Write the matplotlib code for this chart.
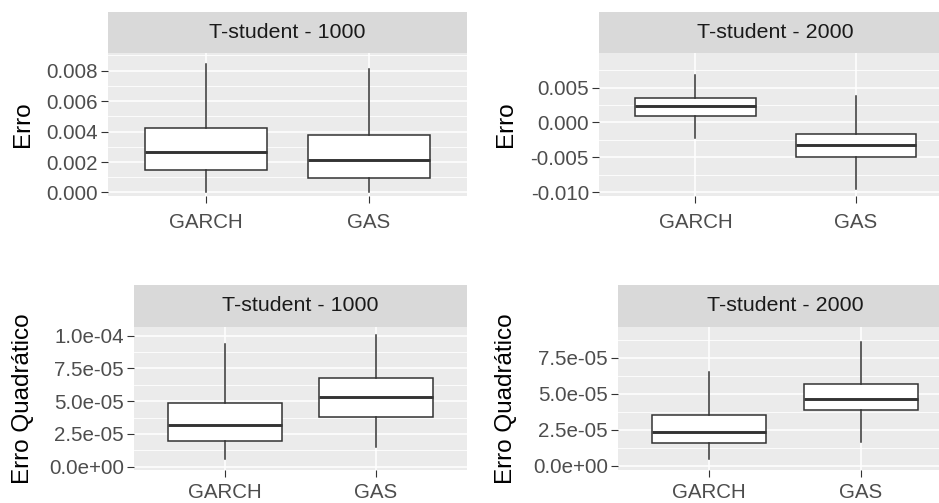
import matplotlib
matplotlib.use("Agg")
import matplotlib.pyplot as plt
from matplotlib.ticker import FixedLocator, FixedFormatter

plt.rcParams['font.family'] = ['Liberation Sans', 'DejaVu Sans']

W, H, DPI = 939, 503, 100

models = ["GARCH", "GAS"]

# Five-number summaries per model: whisker low, Q1, median, Q3, whisker high
erro_1000_garch = [0.00005, 0.00150, 0.00268, 0.00425, 0.00842]
erro_1000_gas = [0.00005, 0.00093, 0.00213, 0.00378, 0.00809]
erro_2000_garch = [-0.00224, 0.00092, 0.00237, 0.00344, 0.00683]
erro_2000_gas = [-0.00957, -0.00491, -0.00326, -0.00166, 0.00383]
eq_1000_garch = [0.56e-5, 1.94e-5, 3.20e-5, 4.84e-5, 9.37e-5]
eq_1000_gas = [1.48e-5, 3.82e-5, 5.34e-5, 6.75e-5, 10.05e-5]
eq_2000_garch = [0.43e-5, 1.59e-5, 2.35e-5, 3.51e-5, 6.53e-5]
eq_2000_gas = [1.66e-5, 3.86e-5, 4.65e-5, 5.65e-5, 8.62e-5]

strip_titles = ["T-student - 1000", "T-student - 2000",
                "T-student - 1000", "T-student - 2000"]
y_titles = ["Erro", "Erro", "Erro Quadrático", "Erro Quadrático"]

ticks_erro_1000 = [0.000, 0.002, 0.004, 0.006, 0.008]
labels_erro_1000 = ["0.000", "0.002", "0.004", "0.006", "0.008"]
ticks_erro_2000 = [-0.010, -0.005, 0.000, 0.005]
labels_erro_2000 = ["-0.010", "-0.005", "0.000", "0.005"]
ticks_eq_1000 = [0.0, 2.5e-5, 5.0e-5, 7.5e-5, 1.0e-4]
labels_eq_1000 = ["0.0e+00", "2.5e-05", "5.0e-05", "7.5e-05", "1.0e-04"]
ticks_eq_2000 = [0.0, 2.5e-5, 5.0e-5, 7.5e-5]
labels_eq_2000 = ["0.0e+00", "2.5e-05", "5.0e-05", "7.5e-05"]

panels = [
    dict(data=[erro_1000_garch, erro_1000_gas], ticks=ticks_erro_1000,
         labels=labels_erro_1000, ylim=(-0.00023, 0.00914),
         rect=(108.3, 53.3, 466.7, 196.0), strip=12.3, ylab_x=23, xpad=7),
    dict(data=[erro_2000_garch, erro_2000_gas], ticks=ticks_erro_2000,
         labels=labels_erro_2000, ylim=(-0.01054, 0.0099),
         rect=(599.3, 53.3, 952.0, 196.0), strip=12.3, ylab_x=506, xpad=7),
    dict(data=[eq_1000_garch, eq_1000_gas], ticks=ticks_eq_1000,
         labels=labels_eq_1000, ylim=(-0.25e-5, 10.69e-5),
         rect=(134.3, 326.7, 466.7, 470.0), strip=285.0, ylab_x=23, xpad=4.5),
    dict(data=[eq_2000_garch, eq_2000_gas], ticks=ticks_eq_2000,
         labels=labels_eq_2000, ylim=(-0.31e-5, 9.66e-5),
         rect=(618.3, 326.7, 951.6, 470.0), strip=285.0, ylab_x=506, xpad=4.5),
]

PANEL_BG = "#EBEBEB"
STRIP_BG = "#D9D9D9"
DARK = "#333333"

fig = plt.figure(figsize=(W / DPI, H / DPI), dpi=DPI, facecolor="white")


def fig_rect(x0, y0, x1, y1):
    """Pixel box (top-left origin) -> figure-fraction [left, bottom, w, h]."""
    return [x0 / W, 1 - y1 / H, (x1 - x0) / W, (y1 - y0) / H]


for p, title, ylab in zip(panels, strip_titles, y_titles):
    x0, y0, x1, y1 = p["rect"]
    ax = fig.add_axes(fig_rect(x0, y0, x1, y1))
    ax.set_facecolor(PANEL_BG)
    for s in ax.spines.values():
        s.set_visible(False)

    ax.set_xlim(0.4, 2.6)
    ax.set_ylim(*p["ylim"])

    # grid lines: majors at ticks, minors halfway between
    ticks = p["ticks"]
    step = ticks[1] - ticks[0]
    minors = [t + step / 2 for t in [ticks[0] - step] + ticks]
    lo, hi = p["ylim"]
    for m in minors:
        if lo < m < hi:
            ax.axhline(m, color="white", lw=0.6, zorder=0.5)
    for t in ticks:
        ax.axhline(t, color="white", lw=1.1, zorder=0.6)
    for xpos in (1, 2):
        ax.axvline(xpos, color="white", lw=1.1, zorder=0.6)

    stats = []
    for name, vals in zip(models, p["data"]):
        stats.append(dict(label=name, whislo=vals[0], q1=vals[1],
                          med=vals[2], q3=vals[3], whishi=vals[4]))
    ax.bxp(stats, positions=[1, 2], widths=0.75, showcaps=False,
           showfliers=False, patch_artist=True,
           boxprops=dict(facecolor="white", edgecolor=DARK, linewidth=1.1),
           whiskerprops=dict(color=DARK, linewidth=1.1),
           medianprops=dict(color=DARK, linewidth=2.1, solid_capstyle="butt"),
           zorder=2)

    ax.yaxis.set_major_locator(FixedLocator(ticks))
    ax.yaxis.set_major_formatter(FixedFormatter(p["labels"]))
    ax.set_xticks([1, 2])
    ax.set_xticklabels(models)
    ax.tick_params(axis="both", colors=DARK, length=5, width=0.8,
                   labelcolor="#4D4D4D", labelsize=14.8)
    ax.tick_params(axis="y", pad=2.5)
    ax.tick_params(axis="x", pad=p["xpad"])

    ax.set_ylabel(ylab, fontsize=17.5, color="black")
    ax.yaxis.label.set_horizontalalignment("center")
    ax.yaxis.label.set_verticalalignment("center")
    xl = (p["ylab_x"] - x0) / (x1 - x0)
    ax.yaxis.set_label_coords(xl, 0.5)

    # facet strip above the panel
    sax = fig.add_axes(fig_rect(x0, p["strip"], x1, y0))
    sax.set_facecolor(STRIP_BG)
    sax.set_xticks([])
    sax.set_yticks([])
    for s in sax.spines.values():
        s.set_visible(False)
    sax.text(0.5, 0.5, title, ha="center", va="center", fontsize=15.4,
             color="#1A1A1A", transform=sax.transAxes)

fig.savefig("out.png", dpi=DPI, facecolor="white")
